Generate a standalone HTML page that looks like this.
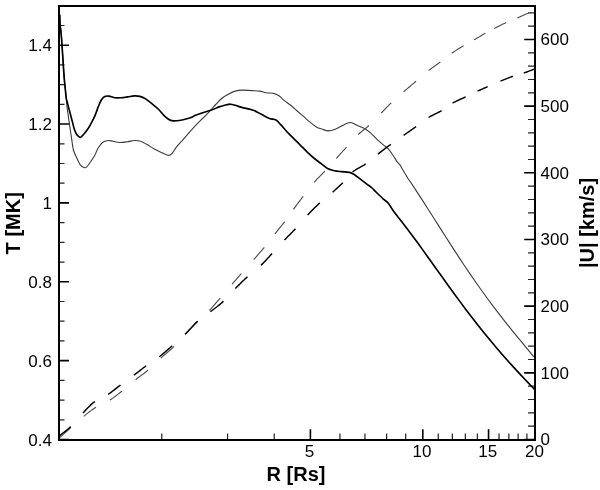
<!DOCTYPE html><html><head><meta charset="utf-8"><title>T and |U| vs R</title><style>html,body{margin:0;padding:0;background:#fff;width:600px;height:490px;overflow:hidden}svg{display:block}text{font-family:"Liberation Sans",Arial,Helvetica,sans-serif;fill:#000}</style></head><body>
<svg width="600" height="490" viewBox="0 0 600 490">
<rect width="600" height="490" fill="#fff"/>
<path d="M59,439.5H69M59,360.64H69M59,281.78H69M59,202.92H69M59,124.06H69M59,45.2H69M535,439.5H524.2M535,372.83H524.2M535,306.16H524.2M535,239.49H524.2M535,172.82H524.2M535,106.15H524.2M535,39.48H524.2M310.4,440V429.3M422.8,440V429.3M488.55,440V429.3" stroke="#000" stroke-width="1.6" fill="none"/>
<path d="M59,419.79H64.5M59,400.07H64.5M59,380.36H64.5M59,340.93H64.5M59,321.21H64.5M59,301.5H64.5M59,262.06H64.5M59,242.35H64.5M59,222.63H64.5M59,183.2H64.5M59,163.49H64.5M59,143.78H64.5M59,104.35H64.5M59,84.63H64.5M59,64.91H64.5M59,25.48H64.5M535,426.17H528M535,412.83H528M535,399.5H528M535,386.16H528M535,359.5H528M535,346.16H528M535,332.83H528M535,319.49H528M535,292.83H528M535,279.49H528M535,266.16H528M535,252.82H528M535,226.16H528M535,212.82H528M535,199.49H528M535,186.15H528M535,159.49H528M535,146.15H528M535,132.82H528M535,119.48H528M535,92.82H528M535,79.48H528M535,66.15H528M535,52.81H528M535,26.15H528M535,12.81H528M161.8,440V433.5M227.56,440V433.5M274.21,440V433.5M339.96,440V433.5M364.96,440V433.5M386.61,440V433.5M405.71,440V433.5M438.26,440V433.5M452.37,440V433.5M465.35,440V433.5M477.36,440V433.5M499.02,440V433.5M508.85,440V433.5M518.12,440V433.5M526.89,440V433.5" stroke="#222" stroke-width="1.2" fill="none"/>
<path d="M59.8,14.7C59.83,16.08 59.8,20.03 60,23C60.2,25.97 60.75,30 61,32.5C61.25,35 61.17,33.42 61.5,38C61.83,42.58 62.67,55 63,60C63.33,65 63.28,64.83 63.5,68C63.72,71.17 64.02,75.67 64.3,79C64.58,82.33 64.88,84.83 65.2,88C65.52,91.17 65.92,95.07 66.2,98C66.48,100.93 66.57,102.7 66.9,105.6C67.23,108.5 67.78,112.4 68.2,115.4C68.62,118.4 69,120.83 69.4,123.6C69.8,126.37 70.2,129.3 70.6,132C71,134.7 71.33,136.8 71.8,139.8C72.27,142.8 72.58,147 73.4,150C74.22,153 75.53,155.27 76.7,157.8C77.87,160.33 79.18,163.57 80.4,165.2C81.62,166.83 82.98,167.28 84,167.6C85.02,167.92 85.4,168.07 86.5,167.1C87.6,166.13 89.23,163.72 90.6,161.8C91.97,159.88 93.47,157.85 94.7,155.6C95.93,153.35 96.7,150.48 98,148.3C99.3,146.12 100.82,143.8 102.5,142.5C104.18,141.2 106.35,140.7 108.1,140.5C109.85,140.3 111.1,140.97 113,141.3C114.9,141.63 117.05,142.43 119.5,142.5C121.95,142.57 125.25,142.03 127.7,141.7C130.15,141.37 132.03,140.57 134.2,140.5C136.37,140.43 138.53,140.62 140.7,141.3C142.87,141.98 145.02,143.37 147.2,144.6C149.38,145.83 151.62,147.48 153.8,148.7C155.98,149.92 157.98,150.8 160.3,151.9C162.62,153 165.8,154.97 167.7,155.3C169.6,155.63 170.23,155.3 171.7,153.9C173.17,152.5 174.6,149.28 176.5,146.9C178.4,144.52 180.92,142.05 183.1,139.6C185.28,137.15 187.43,134.65 189.6,132.2C191.77,129.75 193.92,127.2 196.1,124.9C198.28,122.6 200.52,120.58 202.7,118.4C204.88,116.22 207.03,114.12 209.2,111.8C211.37,109.48 213.53,106.8 215.7,104.5C217.87,102.2 220.02,99.77 222.2,98C224.38,96.23 226.62,95.05 228.8,93.9C230.98,92.75 233.13,91.73 235.3,91.1C237.47,90.47 239.1,90.18 241.8,90.1C244.5,90.02 248.52,90.43 251.5,90.6C254.48,90.77 257.25,90.75 259.7,91.1C262.15,91.45 263.75,92.28 266.2,92.7C268.65,93.12 272.22,93.05 274.4,93.6C276.58,94.15 277.67,94.87 279.3,96C280.93,97.13 282.3,98.85 284.2,100.4C286.1,101.95 288.53,103.53 290.7,105.3C292.87,107.07 295.02,109.1 297.2,111C299.38,112.9 301.62,114.8 303.8,116.7C305.98,118.6 308.13,120.63 310.3,122.4C312.47,124.17 314.9,126.2 316.8,127.3C318.7,128.4 319.82,128.4 321.7,129C323.58,129.6 325.95,130.8 328.1,130.9C330.25,131 332.43,130.37 334.6,129.6C336.77,128.83 338.92,127.38 341.1,126.3C343.28,125.22 345.93,123.7 347.7,123.1C349.47,122.5 350.08,122.3 351.7,122.7C353.32,123.1 355.35,124.57 357.4,125.5C359.45,126.43 361.82,127.07 364,128.3C366.18,129.53 368.33,131.05 370.5,132.9C372.67,134.75 374.82,137.37 377,139.4C379.18,141.43 381.75,143.57 383.6,145.1C385.45,146.63 386.77,147.25 388.1,148.6C389.43,149.95 390.58,151.77 391.6,153.2C392.62,154.63 393.27,155.77 394.2,157.2C395.13,158.63 396.18,160.43 397.2,161.8C398.22,163.17 399.45,164.2 400.3,165.4C401.15,166.6 401.05,166.87 402.3,169C403.55,171.13 406.52,176.15 407.8,178.2C409.08,180.25 408.63,179.28 410,181.3C411.37,183.33 414,187.3 416,190.34C418,193.39 420,196.48 422,199.59C424,202.69 426,205.83 428,208.97C430,212.11 432,215.27 434,218.42C436,221.57 438,224.73 440,227.88C442,231.03 444,234.18 446,237.31C448,240.43 450,243.55 452,246.65C454,249.74 456,252.82 458,255.87C460,258.91 462,261.94 464,264.93C466,267.92 468,270.89 470,273.82C472,276.75 474,279.65 476,282.51C478,285.37 480,288.2 482,290.99C484,293.78 486,296.54 488,299.26C490,301.98 492,304.67 494,307.32C496,309.97 498,312.59 500,315.17C502,317.76 504,320.31 506,322.84C508,325.36 510,327.86 512,330.33C514,332.81 516,335.26 518,337.69C520,340.13 522,342.54 524,344.94C526,347.35 528.35,350.15 530,352.13C531.65,354.1 533.25,356.01 533.9,356.79" stroke="#3a3a3a" stroke-width="1.1" fill="none" stroke-linejoin="round"/>
<path d="M59.8,14.7C59.83,16.08 59.8,20.03 60,23C60.2,25.97 60.75,30 61,32.5C61.25,35 61.17,33.42 61.5,38C61.83,42.58 62.67,55 63,60C63.33,65 63.28,64.83 63.5,68C63.72,71.17 64.02,75.67 64.3,79C64.58,82.33 64.88,84.83 65.2,88C65.52,91.17 65.82,95.47 66.2,98C66.58,100.53 66.93,100.98 67.5,103.2C68.07,105.42 68.88,108.58 69.6,111.3C70.32,114.02 71.08,116.77 71.8,119.5C72.52,122.23 73.3,125.62 73.9,127.7C74.5,129.78 74.83,130.73 75.4,132C75.97,133.27 76.47,134.42 77.3,135.3C78.13,136.18 79.37,137.43 80.4,137.3C81.43,137.17 82.35,135.75 83.5,134.5C84.65,133.25 86.05,131.62 87.3,129.8C88.55,127.98 89.7,126 91,123.6C92.3,121.2 93.87,118.27 95.1,115.4C96.33,112.53 97.33,109.02 98.4,106.4C99.47,103.78 100.43,101.37 101.5,99.7C102.57,98.03 103.57,97 104.8,96.4C106.03,95.8 107.27,95.88 108.9,96.1C110.53,96.32 112.57,97.43 114.6,97.7C116.63,97.97 118.92,97.83 121.1,97.7C123.28,97.57 125.52,97.2 127.7,96.9C129.88,96.6 132.17,95.98 134.2,95.9C136.23,95.82 138,95.9 139.9,96.4C141.8,96.9 143.57,97.67 145.6,98.9C147.63,100.13 149.92,102.03 152.1,103.8C154.28,105.57 156.78,107.6 158.7,109.5C160.62,111.4 161.97,113.57 163.6,115.2C165.23,116.83 167.15,118.4 168.5,119.3C169.85,120.2 170.37,120.35 171.7,120.6C173.03,120.85 174.6,120.95 176.5,120.8C178.4,120.65 180.92,120.17 183.1,119.7C185.28,119.23 187.43,118.77 189.6,118C191.77,117.23 193.92,115.98 196.1,115.1C198.28,114.22 200.52,113.43 202.7,112.7C204.88,111.97 207.3,111.3 209.2,110.7C211.1,110.1 212.47,109.73 214.1,109.1C215.73,108.47 217.1,107.58 219,106.9C220.9,106.22 223.6,105.45 225.5,105C227.4,104.55 228.77,104.15 230.4,104.2C232.03,104.25 233.4,104.77 235.3,105.3C237.2,105.83 238.82,106.58 241.8,107.4C244.78,108.22 249.95,109.05 253.2,110.2C256.45,111.35 258.58,112.93 261.3,114.3C264.02,115.67 267.05,117.45 269.5,118.4C271.95,119.35 274.1,118.92 276,120C277.9,121.08 279,122.87 280.9,124.9C282.8,126.93 285.22,129.88 287.4,132.2C289.58,134.52 291.82,136.62 294,138.8C296.18,140.98 298.33,143.13 300.5,145.3C302.67,147.47 304.58,149.52 307,151.8C309.42,154.08 312.58,156.98 315,159C317.42,161.02 319.32,162.27 321.5,163.9C323.68,165.53 325.92,167.67 328.1,168.8C330.28,169.93 332.43,170.23 334.6,170.7C336.77,171.17 338.65,171.32 341.1,171.6C343.55,171.88 347.12,171.92 349.3,172.4C351.48,172.88 352.3,173.33 354.2,174.5C356.1,175.67 358.53,177.77 360.7,179.4C362.87,181.03 365.32,182.87 367.2,184.3C369.08,185.73 370.45,186.63 372,188C373.55,189.37 374.65,190.7 376.5,192.5C378.35,194.3 381.18,197.07 383.1,198.8C385.02,200.53 386.37,201 388,202.9C389.63,204.8 391.27,207.9 392.9,210.2C394.53,212.5 396.62,215.17 397.8,216.7C398.98,218.23 398.63,217.66 400,219.4C401.37,221.14 404,224.52 406,227.15C408,229.77 410,232.45 412,235.14C414,237.84 416,240.57 418,243.32C420,246.07 422,248.85 424,251.63C426,254.41 428,257.22 430,260.02C432,262.82 434,265.63 436,268.43C438,271.24 440,274.04 442,276.84C444,279.63 446,282.42 448,285.19C450,287.96 452,290.72 454,293.46C456,296.2 458,298.92 460,301.62C462,304.32 464,307 466,309.64C468,312.29 470,314.92 472,317.51C474,320.11 476,322.67 478,325.21C480,327.74 482,330.25 484,332.73C486,335.2 488,337.65 490,340.06C492,342.47 494,344.86 496,347.21C498,349.56 500,351.88 502,354.18C504,356.47 506,358.73 508,360.97C510,363.21 512,365.42 514,367.61C516,369.8 518,371.96 520,374.1C522,376.25 524,378.37 526,380.48C528,382.6 530.58,385.29 532,386.77C533.42,388.26 534.08,388.94 534.5,389.38" stroke="#000" stroke-width="1.65" fill="none" stroke-linejoin="round"/>
<path d="M59.3,438L60.81,436.65L62.83,434.85L65.24,432.68L67.93,430.27L70.79,427.71L71,427.52M83.8,416.3L85.51,414.88L87,413.66L88.31,412.61L89.48,411.7L90.56,410.9L91.59,410.17L92.6,409.47L93.65,408.79L94.77,408.07L96,407.3M109.9,400L111.18,399.18L112.43,398.35L113.64,397.5L114.84,396.63L116.02,395.75L117.21,394.85L118.4,393.92L119.6,392.97L120.84,392L122.1,391M135.6,379.7L136.88,378.69L138.13,377.73L139.36,376.8L140.57,375.9L141.78,375.01L142.99,374.11L144.2,373.19L145.41,372.24L146.65,371.25L147.9,370.2M160.9,358L162.21,356.82L163.55,355.67L164.89,354.52L166.23,353.38L167.57,352.25L168.9,351.12L170.21,349.98L171.51,348.83L172.77,347.68L174,346.5M185.1,334.3L186.3,333.02L187.54,331.7L188.8,330.36L190.08,329.01L191.37,327.66L192.66,326.31L193.95,324.98L195.22,323.68L196.47,322.42L197.7,321.2M209.3,310.5L210.41,309.33L211.51,308.14L212.59,306.93L213.66,305.7L214.73,304.45L215.8,303.19L216.88,301.91L217.97,300.62L219.07,299.31L220.2,298M232.1,284.1L233.12,282.92L234.08,281.82L234.99,280.78L235.86,279.78L236.73,278.8L237.59,277.82L238.47,276.82L239.39,275.78L240.36,274.68L241.4,273.5M253.7,259.6L254.83,258.31L255.93,257.06L257,255.83L258.06,254.62L259.11,253.42L260.14,252.22L261.17,251.02L262.21,249.8L263.25,248.57L264.3,247.3M274.9,233.9L275.92,232.63L276.93,231.37L277.93,230.13L278.93,228.9L279.92,227.67L280.9,226.46L281.87,225.25L282.82,224.04L283.77,222.82L284.7,221.6M293.4,209.4L294.33,208.13L295.27,206.85L296.23,205.56L297.19,204.26L298.17,202.95L299.16,201.63L300.15,200.31L301.16,198.98L302.17,197.64L303.2,196.3M314,182.5L315.08,181.28L316.15,180.1L317.22,178.97L318.29,177.87L319.36,176.78L320.44,175.7L321.52,174.61L322.6,173.51L323.7,172.38L324.8,171.2M336.2,158.5L337.27,157.32L338.31,156.17L339.32,155.05L340.33,153.95L341.33,152.85L342.32,151.75L343.33,150.65L344.36,149.53L345.41,148.38L346.5,147.2M358.3,134.5L359.4,133.47L360.47,132.52L361.51,131.64L362.54,130.8L363.57,129.98L364.6,129.17L365.63,128.33L366.69,127.46L367.78,126.52L368.9,125.5M381.2,113.1L382.29,111.99L383.33,110.92L384.32,109.88L385.29,108.86L386.25,107.86L387.21,106.87L388.18,105.88L389.17,104.87L390.21,103.85L391.3,102.8M403.6,91.8L404.84,90.72L406.09,89.65L407.34,88.59L408.59,87.53L409.84,86.48L411.09,85.42L412.34,84.37L413.6,83.31L414.85,82.26L416.1,81.2M428.6,70.6L429.8,69.66L431,68.75L432.18,67.88L433.35,67.02L434.52,66.18L435.68,65.35L436.84,64.52L437.99,63.69L439.15,62.86L440.3,62M451.7,53.3L452.88,52.49L454.07,51.68L455.28,50.89L456.49,50.1L457.71,49.33L458.92,48.56L460.12,47.82L461.3,47.09L462.46,46.39L463.6,45.7M474.1,39.8L475.21,39.16L476.35,38.49L477.51,37.81L478.68,37.11L479.86,36.42L481.02,35.73L482.17,35.06L483.29,34.4L484.37,33.78L485.4,33.2M494.2,28.6L495.27,28.05L496.39,27.47L497.56,26.86L498.77,26.23L500,25.6L501.24,24.97L502.48,24.34L503.72,23.73L504.92,23.15L506.1,22.6M517.3,18L518.4,17.52L519.51,17.02L520.62,16.51L521.74,15.99L522.84,15.48L523.91,14.99L524.96,14.52L525.96,14.1L526.91,13.72L527.8,13.4L528.5,13.19" stroke="#4a4a4a" stroke-width="1.1" fill="none"/>
<path d="M59.3,435.9L59.97,435.37L60.84,434.7L61.86,433.93L63,433.05L64.24,432.09L65.54,431.07L66.86,429.99L68.19,428.88L69.48,427.74L70.7,426.6M82.9,413.1L83.74,412.19L84.46,411.4L85.1,410.7L85.66,410.09L86.18,409.54L86.66,409.03L87.13,408.55L87.62,408.06L88.13,407.55L88.7,407L89.27,406.44L89.8,405.91L90.31,405.39L90.81,404.88L91.33,404.38L91.89,403.86L92.51,403.34L93.2,402.79L93.99,402.21L94.9,401.6M108.2,394.3L109.47,393.45L110.7,392.58L111.93,391.68L113.13,390.75L114.34,389.81L115.54,388.86L116.75,387.9L117.98,386.93L119.23,385.96L120.5,385M134,375.1L135.27,374.14L136.51,373.2L137.73,372.26L138.93,371.32L140.12,370.39L141.32,369.47L142.51,368.55L143.72,367.63L144.95,366.72L146.2,365.8M159.3,356.8L160.6,355.78L161.91,354.72L163.21,353.63L164.52,352.53L165.82,351.4L167.12,350.26L168.42,349.12L169.71,347.97L171.01,346.83L172.3,345.7M185.1,334.3L186.37,333.04L187.63,331.73L188.89,330.38L190.15,329L191.41,327.62L192.66,326.26L193.92,324.91L195.18,323.61L196.44,322.37L197.7,321.2M210.4,311.8L211.7,310.8L213.01,309.79L214.34,308.77L215.67,307.75L217,306.71L218.33,305.65L219.65,304.57L220.95,303.47L222.24,302.35L223.5,301.2M235.4,288.5L236.6,287.28L237.78,286.08L238.97,284.88L240.16,283.7L241.35,282.52L242.55,281.35L243.76,280.18L244.99,279.02L246.23,277.86L247.5,276.7M261,265.3L262.2,264.14L263.35,262.99L264.47,261.84L265.56,260.69L266.63,259.52L267.69,258.35L268.76,257.17L269.84,255.97L270.95,254.75L272.1,253.5M284.4,240.1L285.55,238.89L286.68,237.73L287.79,236.6L288.88,235.5L289.96,234.41L291.05,233.32L292.13,232.22L293.24,231.09L294.35,229.92L295.5,228.7M307.6,215.1L308.81,213.82L310.02,212.55L311.23,211.29L312.44,210.05L313.66,208.82L314.87,207.6L316.09,206.41L317.32,205.22L318.56,204.05L319.8,202.9M332.6,192.2L333.73,191.21L334.81,190.24L335.86,189.3L336.89,188.37L337.89,187.45L338.87,186.53L339.85,185.6L340.83,184.66L341.81,183.69L342.8,182.7M352.6,172L353.77,171.09L355.01,170.24L356.29,169.43L357.6,168.65L358.94,167.89L360.3,167.14L361.65,166.37L362.99,165.59L364.31,164.77L365.6,163.9M377.9,154.1L379.17,153.12L380.46,152.13L381.76,151.13L383.06,150.14L384.38,149.14L385.69,148.16L387,147.17L388.31,146.2L389.61,145.24L390.9,144.3M403.6,135.4L404.86,134.52L406.11,133.64L407.36,132.76L408.61,131.89L409.86,131.01L411.11,130.14L412.36,129.26L413.6,128.38L414.85,127.49L416.1,126.6M428.6,117.5L429.89,116.72L431.2,115.99L432.53,115.29L433.86,114.61L435.19,113.95L436.52,113.3L437.83,112.64L439.12,111.98L440.38,111.3L441.6,110.6M452.6,103.1L453.82,102.43L455.09,101.77L456.39,101.13L457.71,100.5L459.04,99.89L460.38,99.28L461.72,98.68L463.04,98.09L464.34,97.49L465.6,96.9M477.5,91.2L478.58,90.7L479.61,90.22L480.61,89.77L481.58,89.32L482.55,88.89L483.52,88.45L484.51,88.01L485.53,87.56L486.59,87.09L487.7,86.6M500.4,81.1L501.66,80.58L502.92,80.07L504.19,79.56L505.45,79.06L506.71,78.56L507.96,78.08L509.19,77.61L510.41,77.15L511.62,76.72L512.8,76.3M523.8,73L524.9,72.62L526.05,72.21L527.24,71.78L528.43,71.33L529.59,70.89L530.69,70.47L531.71,70.08L532.63,69.72L533.4,69.43L534,69.2" stroke="#000" stroke-width="1.45" fill="none"/>
<rect x="59" y="6" width="476" height="434" fill="none" stroke="#000" stroke-width="2"/>
<text x="52" y="445.6" font-size="17" text-anchor="end">0.4</text>
<text x="52" y="366.74" font-size="17" text-anchor="end">0.6</text>
<text x="52" y="287.88" font-size="17" text-anchor="end">0.8</text>
<text x="52" y="209.02" font-size="17" text-anchor="end">1</text>
<text x="52" y="130.16" font-size="17" text-anchor="end">1.2</text>
<text x="52" y="51.3" font-size="17" text-anchor="end">1.4</text>
<text x="540.5" y="445.2" font-size="17">0</text>
<text x="540.5" y="378.53" font-size="17">100</text>
<text x="540.5" y="311.86" font-size="17">200</text>
<text x="540.5" y="245.19" font-size="17">300</text>
<text x="540.5" y="178.52" font-size="17">400</text>
<text x="540.5" y="111.85" font-size="17">500</text>
<text x="540.5" y="45.18" font-size="17">600</text>
<text x="309.6" y="457.4" font-size="17" text-anchor="middle">5</text>
<text x="422" y="457.4" font-size="17" text-anchor="middle">10</text>
<text x="487.75" y="457.4" font-size="17" text-anchor="middle">15</text>
<text x="534.4" y="457.4" font-size="17" text-anchor="middle">20</text>
<text x="296" y="480.8" font-size="20" font-weight="bold" text-anchor="middle">R [Rs]</text>
<text transform="translate(19.9,223.3) rotate(-90)" font-size="20" font-weight="bold" text-anchor="middle">T [MK]</text>
<text transform="translate(593.5,223) rotate(-90)" font-size="20" font-weight="bold" text-anchor="middle">|U| [km/s]</text>
</svg></body></html>
